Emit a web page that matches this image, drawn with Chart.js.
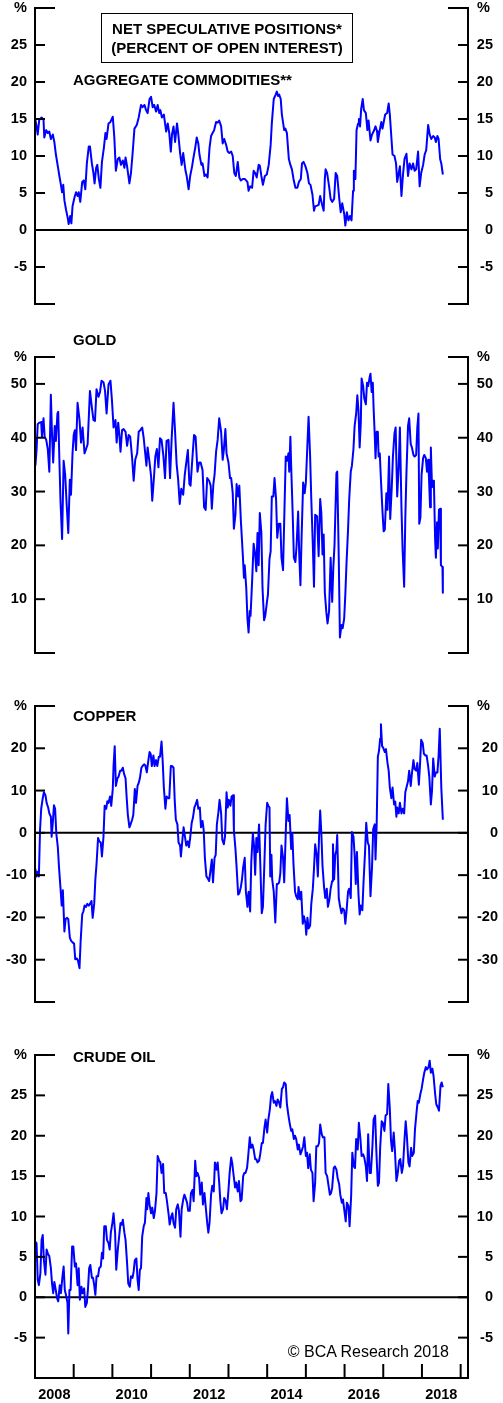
<!DOCTYPE html>
<html>
<head>
<meta charset="utf-8">
<title>Net Speculative Positions</title>
<script src="https://cdn.jsdelivr.net/npm/chart.js@4.4.1/dist/chart.umd.min.js"></script>
<style>
  html, body { margin:0; padding:0; background:#fff; }
  #page { position:relative; width:503px; height:1403px; overflow:hidden; background:#fff; }
  .panel { position:absolute; left:0; width:503px; }
  .panel canvas { display:block; }
  .txt { position:absolute; white-space:nowrap; color:#000;
         font-family:"Liberation Sans", Arial, Helvetica, sans-serif;
         font-weight:bold; font-size:15px; line-height:15px; }
  .center { left:101px; width:252px; text-align:center; }
  .copy { font-weight:normal; font-size:16px; line-height:16px; }
  #box { position:absolute; left:101px; top:13px; width:252px; height:50px;
         box-sizing:border-box; border:1.4px solid #000; }
</style>
</head>
<body>
<div id="page">
  <div class="panel" style="top:-12px;height:362px"><canvas id="cAgg" width="503" height="362"></canvas></div>
  <div class="panel" style="top:337px;height:362px"><canvas id="cGold" width="503" height="362"></canvas></div>
  <div class="panel" style="top:686px;height:362px"><canvas id="cCopper" width="503" height="362"></canvas></div>
  <div class="panel" style="top:1035px;height:373px"><canvas id="cOil" width="503" height="373"></canvas></div>

  <div id="box"></div>
  <div class="txt center" style="top:20.6px">NET SPECULATIVE POSITIONS*</div>
  <div class="txt center" style="top:40px">(PERCENT OF OPEN INTEREST)</div>
  <div class="txt" style="left:73px;top:72.3px">AGGREGATE COMMODITIES**</div>
  <div class="txt" style="left:73px;top:332.3px">GOLD</div>
  <div class="txt" style="left:73px;top:708.3px">COPPER</div>
  <div class="txt" style="left:73px;top:1049.3px">CRUDE OIL</div>
  <div class="txt copy" style="right:54px;top:1344px">© BCA Research 2018</div>
</div>

<script>
// ---- Weekly net speculative positions, % of open interest (decimal-year dates) ----
const aggDates = [
2008.01,2008.04,2008.07,2008.11,2008.17,2008.22,2008.24,2008.29,2008.33,2008.37,
2008.41,2008.46,2008.50,2008.54,2008.59,2008.63,2008.67,2008.70,2008.73,2008.76,
2008.80,2008.85,2008.87,2008.91,2008.94,2008.97,2009.02,2009.06,2009.10,2009.13,
2009.17,2009.22,2009.26,2009.30,2009.34,2009.39,2009.42,2009.47,2009.51,2009.54,
2009.58,2009.61,2009.65,2009.69,2009.73,2009.78,2009.82,2009.85,2009.90,2009.95,
2010.01,2010.05,2010.09,2010.14,2010.18,2010.22,2010.27,2010.31,2010.34,2010.38,
2010.44,2010.48,2010.52,2010.57,2010.63,2010.68,2010.74,2010.78,2010.83,2010.87,
2010.91,2010.96,2011.00,2011.04,2011.08,2011.13,2011.17,2011.21,2011.24,2011.28,
2011.33,2011.39,2011.43,2011.47,2011.51,2011.54,2011.58,2011.62,2011.67,2011.70,
2011.75,2011.79,2011.83,2011.89,2011.92,2011.97,2012.01,2012.06,2012.09,2012.14,
2012.18,2012.22,2012.25,2012.30,2012.33,2012.38,2012.42,2012.46,2012.51,2012.55,
2012.59,2012.63,2012.68,2012.72,2012.76,2012.81,2012.85,2012.89,2012.94,2012.98,
2013.02,2013.07,2013.11,2013.15,2013.19,2013.24,2013.28,2013.32,2013.37,
2013.42,2013.49,2013.52,2013.56,2013.61,2013.65,2013.69,2013.73,2013.78,2013.81,
2013.85,2013.89,2013.94,2013.99,2014.04,2014.09,2014.12,2014.17,2014.22,2014.25,
2014.28,2014.31,2014.35,2014.38,2014.44,2014.47,2014.51,2014.56,2014.60,2014.64,
2014.68,2014.73,2014.78,2014.82,2014.87,2014.90,2014.94,2014.99,2015.04,2015.08,
2015.12,2015.17,2015.21,2015.24,2015.29,2015.33,2015.37,2015.42,2015.46,2015.49,
2015.51,2015.55,2015.60,2015.64,2015.68,2015.73,2015.77,2015.81,2015.86,2015.90,
2015.94,2015.99,2016.02,2016.06,2016.10,2016.14,2016.18,2016.22,2016.24,2016.28,
2016.31,2016.35,2016.37,2016.40,2016.43,2016.47,2016.50,2016.55,2016.59,2016.62,
2016.67,2016.71,2016.75,2016.80,2016.84,2016.86,2016.91,2016.95,2016.98,2017.02,
2017.05,2017.10,2017.14,2017.17,2017.21,2017.24,2017.29,2017.33,2017.36,2017.40,
2017.43,2017.47,2017.51,2017.55,2017.60,2017.64,2017.68,2017.73,2017.77,2017.81,
2017.85,2017.90,2017.94,2017.98,2018.03,2018.07,2018.11,2018.16,2018.20,2018.24,
2018.29,2018.33,2018.36,2018.40,2018.43,2018.47,2018.50,2018.54
];
const aggValues = [
14.9,14.0,12.9,14.9,15.2,14.9,12.5,13.5,13.1,13.3,
12.3,12.9,11.9,10.2,8.6,7.3,6.1,5.1,6.1,4.0,
2.8,1.5,0.8,1.9,0.9,3.2,4.4,5.1,4.6,5.1,
3.8,6.5,6.7,5.5,9.0,11.3,11.3,9.0,7.7,6.3,
8.4,8.8,6.9,5.7,9.2,11.1,13.1,12.3,14.4,14.6,
15.3,12.5,8.0,9.6,9.8,8.8,9.4,8.4,9.8,8.6,
6.3,7.7,10.2,13.7,14.2,15.2,16.9,16.6,16.9,16.2,
15.8,17.7,18.0,16.6,16.9,16.0,16.9,15.8,16.2,15.2,
15.6,13.3,14.4,13.1,10.6,12.9,14.0,11.9,14.4,13.1,
10.4,8.8,10.4,8.0,7.3,5.5,7.3,8.6,9.6,11.1,
12.5,11.7,10.2,8.8,9.0,7.3,7.5,7.1,11.1,12.7,
13.1,13.5,14.6,14.5,14.8,14.0,11.7,12.3,11.5,10.6,
10.4,10.6,10.0,7.7,7.3,9.2,7.1,6.7,6.9,
6.9,6.5,5.3,5.9,5.7,8.0,7.7,7.1,8.8,8.7,
7.3,6.1,7.3,7.5,8.8,11.5,14.4,17.7,18.3,18.7,
18.1,18.3,17.7,15.6,13.5,13.7,13.1,9.6,8.8,8.2,
6.9,5.7,5.7,6.5,6.9,9.0,9.2,8.6,7.7,6.3,
6.1,4.8,2.6,3.2,3.3,3.4,4.6,3.4,2.6,6.9,
8.2,7.7,5.9,4.2,3.8,4.2,7.7,7.3,4.4,2.4,
3.6,2.2,0.6,2.4,1.3,1.9,1.3,5.3,8.0,6.9,
13.5,14.4,15.0,14.0,16.4,17.7,16.2,15.8,13.5,14.8,
12.1,12.9,13.3,14.0,13.3,11.9,13.5,14.6,13.7,14.8,
15.6,15.8,17.1,15.6,12.5,10.2,10.0,9.0,6.5,7.7,
8.6,4.6,7.5,9.6,10.3,7.3,9.0,8.2,9.0,8.0,
8.2,10.6,5.9,7.7,8.8,10.2,10.8,14.2,12.9,12.3,
12.7,12.5,11.9,12.7,12.3,9.6,9.0,7.5
];

const goldDates = [
2008.01,2008.04,2008.07,2008.11,2008.16,2008.18,2008.22,2008.25,2008.29,2008.33,
2008.37,2008.41,2008.44,2008.47,2008.51,2008.54,2008.58,2008.60,2008.63,2008.66,
2008.70,2008.74,2008.78,2008.82,2008.86,2008.90,2008.93,2008.97,2009.00,2009.03,
2009.06,2009.10,2009.15,2009.19,2009.23,2009.28,2009.32,2009.36,2009.42,2009.47,
2009.51,2009.55,2009.59,2009.64,2009.68,2009.72,2009.77,2009.81,2009.85,2009.90,
2009.95,2009.99,2010.03,2010.08,2010.11,2010.15,2010.18,2010.21,2010.25,2010.29,
2010.34,2010.38,2010.42,2010.46,2010.51,2010.55,2010.59,2010.64,2010.68,2010.72,
2010.77,2010.81,2010.84,2010.88,2010.91,2010.96,2011.00,2011.03,2011.07,2011.11,
2011.15,2011.19,2011.23,2011.27,2011.32,2011.36,2011.40,2011.45,2011.49,2011.53,
2011.58,2011.62,2011.66,2011.70,2011.74,2011.78,2011.83,2011.87,2011.91,2011.95,
2011.99,2012.02,2012.07,2012.11,2012.15,2012.20,2012.24,2012.28,2012.33,2012.37,
2012.41,2012.45,2012.50,2012.54,2012.57,2012.61,2012.64,2012.68,2012.72,2012.76,
2012.81,2012.85,2012.88,2012.92,2012.95,2013.00,2013.04,2013.07,2013.11,2013.14,
2013.18,2013.21,2013.25,2013.28,2013.32,2013.37,2013.40,
2013.42,2013.46,2013.49,2013.52,2013.55,2013.57,2013.61,2013.65,2013.69,2013.72,
2013.75,2013.78,2013.81,2013.85,2013.88,2013.92,2013.95,2013.99,2014.02,2014.06,
2014.09,2014.12,2014.16,2014.19,2014.23,2014.26,2014.30,2014.34,2014.37,2014.41,
2014.44,2014.48,2014.51,2014.55,2014.57,2014.60,2014.62,2014.66,2014.69,2014.73,
2014.76,2014.80,2014.83,2014.86,2014.89,2014.93,2014.97,2015.00,2015.04,2015.07,
2015.11,2015.14,2015.18,2015.21,2015.24,2015.29,2015.33,2015.37,2015.40,2015.43,
2015.46,2015.49,2015.53,2015.56,2015.60,2015.64,2015.68,2015.71,2015.74,2015.79,
2015.81,2015.85,2015.88,2015.92,2015.95,2015.99,2016.02,2016.05,2016.09,2016.12,
2016.16,2016.19,2016.23,2016.26,2016.30,2016.33,2016.36,2016.39,2016.42,2016.44,
2016.48,2016.51,2016.55,2016.58,2016.61,2016.65,2016.67,2016.70,2016.73,2016.75,
2016.78,2016.80,2016.83,2016.86,2016.88,2016.91,2016.94,2016.98,2017.01,2017.04,
2017.08,2017.11,2017.15,2017.18,2017.22,2017.25,2017.29,2017.32,2017.36,2017.40,
2017.43,2017.47,2017.50,2017.54,2017.57,2017.60,2017.64,2017.67,2017.71,2017.74,
2017.78,2017.81,2017.85,2017.88,2017.91,2017.93,2017.96,2017.99,2018.03,2018.06,
2018.10,2018.13,2018.16,2018.18,2018.21,2018.23,2018.26,2018.29,2018.31,2018.34,
2018.36,2018.39,2018.41,2018.44,2018.47,2018.49,2018.53,2018.54
];
const goldValues = [
34.8,37.7,42.5,42.8,42.9,40.2,43.6,40.2,39.6,37.9,
33.7,48.0,40.5,35.4,42.2,39.4,44.5,44.8,35.9,28.0,
21.2,35.7,33.1,27.4,22.3,32.2,29.4,37.1,40.5,41.4,
37.7,46.5,43.3,39.1,41.9,37.1,37.9,38.8,48.7,45.6,
43.3,43.1,49.0,47.6,48.5,50.6,50.3,48.7,44.5,49.9,
50.6,46.8,41.9,43.3,39.1,42.8,40.5,37.4,41.4,41.6,
41.1,38.5,40.5,40.2,36.2,32.0,35.9,37.1,41.1,41.4,
41.9,39.9,37.7,34.8,38.2,35.4,32.8,28.3,32.2,36.5,
37.9,34.5,39.9,39.6,36.5,32.5,39.4,39.6,32.5,39.6,
46.5,41.1,35.1,32.2,27.7,30.5,29.4,33.1,35.4,37.7,
31.4,31.1,36.5,40.5,40.2,33.7,35.4,35.4,34.0,27.1,
26.6,32.5,32.0,31.1,26.8,31.4,33.1,37.4,39.6,43.6,
41.1,35.9,37.7,41.6,37.1,35.4,32.5,32.5,29.7,23.1,
25.7,31.4,29.1,31.1,24.6,18.3,14.0,
16.3,12.0,6.4,3.8,7.8,6.9,13.2,20.3,18.3,15.2,
22.3,16.3,26.0,22.3,12.0,6.1,6.9,9.2,10.9,17.5,
18.9,29.1,29.1,32.5,28.6,21.4,24.0,24.0,17.7,15.4,
24.6,36.5,35.7,37.1,33.7,40.2,34.8,25.7,17.7,16.9,
20.0,26.3,18.0,12.6,21.7,31.7,29.7,31.7,38.8,43.9,
36.5,28.6,20.0,12.3,25.7,25.4,18.0,28.6,26.0,18.3,
22.0,11.2,7.5,5.5,7.8,17.7,9.5,16.0,20.0,33.4,
33.7,17.7,2.9,5.2,4.6,6.4,10.9,16.6,22.9,28.6,
33.7,34.8,37.9,42.2,44.5,47.9,45.0,38.2,42.8,51.0,
49.6,47.3,46.2,50.2,49.6,51.3,51.9,48.5,50.2,45.6,
40.5,36.2,41.1,41.1,36.5,37.1,32.2,26.3,22.6,22.9,
29.7,26.6,36.5,24.9,30.8,36.5,40.8,41.9,29.1,34.8,
41.9,27.1,19.2,12.3,25.1,33.7,42.2,43.6,38.8,38.2,
36.8,36.5,36.8,41.9,44.5,24.0,25.1,33.1,36.2,36.8,
36.2,33.7,35.9,32.8,27.1,38.2,30.8,32.0,31.4,21.2,
17.7,24.3,19.4,26.6,26.8,16.3,16.0,11.2
];

const copperDates = [
2008.01,2008.04,2008.07,2008.10,2008.13,2008.16,2008.20,2008.23,2008.27,2008.30,
2008.34,2008.37,2008.41,2008.43,2008.46,2008.49,2008.52,2008.55,2008.59,2008.62,
2008.66,2008.69,2008.72,2008.76,2008.79,2008.83,2008.86,2008.90,2008.93,2008.97,
2009.01,2009.04,2009.08,2009.11,2009.15,2009.18,2009.22,2009.25,2009.28,2009.32,
2009.35,2009.39,2009.42,2009.46,2009.49,2009.53,2009.56,2009.59,2009.63,2009.66,
2009.70,2009.73,2009.77,2009.80,2009.84,2009.87,2009.90,2009.94,2009.97,2010.01,
2010.03,2010.06,2010.09,2010.13,2010.16,2010.20,2010.23,2010.27,2010.30,2010.34,
2010.37,2010.40,2010.44,2010.47,2010.51,2010.54,2010.58,2010.61,2010.65,2010.68,
2010.71,2010.75,2010.78,2010.82,2010.85,2010.89,2010.92,2010.96,2010.99,2011.02,
2011.06,2011.09,2011.13,2011.16,2011.20,2011.23,2011.27,2011.30,2011.33,2011.37,
2011.40,2011.44,2011.47,2011.51,2011.54,2011.58,2011.61,2011.64,2011.68,2011.71,
2011.75,2011.77,2011.81,2011.84,2011.88,2011.91,2011.95,2011.98,2012.01,2012.05,
2012.08,2012.12,2012.15,2012.19,2012.22,2012.26,2012.29,2012.33,2012.36,2012.39,
2012.43,2012.46,2012.50,2012.53,2012.57,2012.60,2012.64,2012.67,2012.70,2012.74,
2012.77,2012.81,2012.84,2012.88,2012.91,2012.95,2012.98,2013.01,2013.05,2013.08,
2013.12,2013.14,2013.18,2013.21,2013.25,2013.28,2013.32,2013.35,2013.38,
2013.42,2013.45,2013.49,2013.52,2013.56,2013.59,2013.63,2013.66,2013.69,2013.72,
2013.75,2013.79,2013.82,2013.86,2013.89,2013.93,2013.96,2014.00,2014.03,2014.06,
2014.08,2014.11,2014.13,2014.17,2014.21,2014.25,2014.28,2014.31,2014.34,2014.37,
2014.41,2014.44,2014.48,2014.51,2014.55,2014.58,2014.62,2014.65,2014.68,2014.72,
2014.75,2014.79,2014.81,2014.85,2014.88,2014.92,2014.95,2014.99,2015.01,2015.04,
2015.07,2015.11,2015.14,2015.18,2015.21,2015.24,2015.28,2015.31,2015.34,2015.37,
2015.40,2015.43,2015.47,2015.50,2015.54,2015.57,2015.61,2015.64,2015.68,2015.70,
2015.73,2015.76,2015.79,2015.81,2015.85,2015.88,2015.92,2015.95,2015.99,2016.02,
2016.05,2016.09,2016.12,2016.16,2016.19,2016.23,2016.26,2016.29,2016.32,2016.36,
2016.39,2016.42,2016.46,2016.49,2016.53,2016.56,2016.60,2016.63,2016.67,2016.71,
2016.74,2016.78,2016.80,2016.83,2016.86,2016.89,2016.92,2016.94,2016.97,2017.00,
2017.04,2017.07,2017.11,2017.14,2017.17,2017.21,2017.24,2017.28,2017.31,2017.34,
2017.36,2017.40,2017.43,2017.47,2017.50,2017.54,2017.57,2017.60,2017.64,2017.67,
2017.71,2017.74,2017.78,2017.81,2017.85,2017.88,2017.92,2017.95,2017.98,2018.02,
2018.05,2018.09,2018.12,2018.16,2018.19,2018.23,2018.26,2018.29,2018.33,2018.36,
2018.40,2018.43,2018.46,2018.50,2018.54
];
const copperValues = [
-8.5,-10.3,-9.2,-10.3,0.6,5.7,8.2,9.6,8.9,7.1,
6.0,4.6,3.8,-0.9,2.4,6.5,5.7,-0.1,-3.4,-8.1,
-13.2,-17.2,-13.6,-23.3,-20.4,-20.1,-20.4,-24.8,-25.5,-25.9,
-26.2,-29.9,-29.7,-30.2,-32.0,-25.5,-19.3,-18.6,-17.2,-17.5,
-16.8,-17.2,-16.8,-16.1,-20.1,-16.8,-11.0,-7.4,-1.2,-2.0,
-2.3,-5.6,-0.9,6.4,5.7,7.5,7.1,8.6,6.4,10.4,
15.8,20.5,11.1,12.9,13.3,14.7,14.7,15.4,14.0,12.9,
8.2,4.2,1.3,2.0,3.1,4.2,10.4,7.1,11.1,11.8,
12.9,15.4,15.8,16.2,16.0,14.3,16.5,19.1,18.7,15.8,
18.3,15.8,17.2,15.8,18.0,18.0,21.6,16.9,10.7,5.7,
8.6,8.2,8.2,15.8,15.8,15.4,7.8,3.1,2.0,-2.3,
-3.0,-5.6,-1.6,1.3,-1.2,-3.0,-2.0,-3.4,-1.2,2.4,
3.5,6.0,6.7,7.8,5.7,6.0,1.3,2.8,0.6,-5.9,
-10.3,-10.7,-11.4,-9.2,-6.3,-11.7,-5.9,-5.2,2.0,4.9,
7.8,4.6,-1.6,-2.7,-0.9,9.6,6.0,7.8,6.4,8.6,
8.9,0.6,-3.8,-8.1,-14.6,-14.3,-12.8,-11.0,-8.1,
-5.9,-13.9,-17.5,-13.9,-18.6,-6.7,-0.1,-3.0,-9.9,-1.2,
-4.5,2.0,-6.7,-19.0,-17.5,-6.7,2.0,7.1,6.4,6.0,
-10.3,-5.2,-11.0,-13.9,-21.2,-12.1,-12.1,-11.7,-9.6,-3.0,
-5.9,-11.7,-0.1,8.2,2.8,4.2,-3.8,-0.1,-7.4,-13.9,
-15.0,-15.7,-12.8,-15.7,-13.9,-21.5,-19.7,-21.5,-24.1,-20.1,
-22.6,-21.9,-16.8,-13.2,-8.5,-2.7,-5.2,-10.3,-1.2,5.3,
-0.1,-7.8,-12.8,-15.4,-13.2,-17.5,-15.7,-13.2,-11.4,-2.7,
-11.0,-5.2,-4.1,-0.5,-15.4,-17.2,-19.0,-17.9,-18.3,-21.5,
-18.6,-13.9,-13.2,-15.4,0.2,-0.9,-5.2,-12.1,-4.5,-14.6,
-19.3,-17.2,-18.3,-11.7,-4.5,2.4,-2.3,-3.0,-15.0,-8.1,
0.9,2.0,-6.3,2.0,18.0,19.4,22.3,25.7,20.5,20.1,
19.1,19.8,16.5,14.7,10.7,8.2,10.7,6.7,7.4,3.8,
6.0,4.6,7.1,4.6,5.7,4.6,9.6,10.7,12.2,14.7,
11.1,14.0,17.2,15.1,14.7,16.5,11.4,16.2,22.0,21.2,
18.7,18.3,18.3,15.8,13.3,6.7,10.0,17.6,13.3,14.3,
14.3,18.3,24.6,10.7,3.1
];

const oilDates = [
2008.00,2008.04,2008.07,2008.10,2008.14,2008.17,2008.20,2008.23,2008.27,2008.30,
2008.34,2008.37,2008.41,2008.44,2008.47,2008.50,2008.53,2008.57,2008.60,2008.64,
2008.67,2008.71,2008.74,2008.77,2008.80,2008.84,2008.86,2008.89,2008.92,2008.96,
2008.99,2009.03,2009.06,2009.10,2009.13,2009.16,2009.20,2009.23,2009.27,2009.30,
2009.34,2009.37,2009.40,2009.43,2009.47,2009.50,2009.53,2009.56,2009.59,2009.63,
2009.66,2009.70,2009.73,2009.76,2009.79,2009.83,2009.86,2009.90,2009.93,2009.96,
2010.00,2010.03,2010.07,2010.10,2010.14,2010.17,2010.21,2010.24,2010.27,2010.31,
2010.34,2010.38,2010.41,2010.45,2010.48,2010.52,2010.55,2010.58,2010.62,2010.65,
2010.68,2010.71,2010.74,2010.77,2010.81,2010.84,2010.88,2010.90,2010.93,2010.96,
2011.00,2011.03,2011.07,2011.10,2011.14,2011.17,2011.21,2011.24,2011.27,2011.31,
2011.34,2011.38,2011.41,2011.45,2011.48,2011.52,2011.55,2011.58,2011.62,2011.65,
2011.69,2011.72,2011.76,2011.79,2011.83,2011.86,2011.89,2011.93,2011.96,2012.00,
2012.03,2012.07,2012.10,2012.14,2012.17,2012.20,2012.24,2012.27,2012.31,2012.34,
2012.38,2012.41,2012.45,2012.48,2012.51,2012.55,2012.58,2012.62,2012.65,2012.69,
2012.72,2012.76,2012.79,2012.82,2012.86,2012.89,2012.93,2012.96,2013.00,2013.03,
2013.07,2013.10,2013.13,2013.17,2013.20,2013.24,2013.27,2013.31,2013.34,2013.38,
2013.41,2013.44,2013.48,2013.51,2013.55,2013.58,2013.62,2013.65,2013.69,2013.72,
2013.75,2013.79,2013.82,2013.86,2013.89,2013.93,2013.96,2014.00,2014.03,2014.07,
2014.10,2014.13,2014.17,2014.20,2014.24,2014.27,2014.31,2014.34,2014.38,2014.41,
2014.44,2014.48,2014.51,2014.55,2014.58,2014.62,2014.65,2014.69,2014.72,2014.75,
2014.79,2014.82,2014.86,2014.89,2014.93,2014.96,2015.00,2015.03,2015.06,2015.10,
2015.13,2015.17,2015.20,2015.24,2015.27,2015.31,2015.34,2015.37,2015.41,2015.44,
2015.48,2015.51,2015.55,2015.58,2015.62,2015.65,2015.68,2015.72,2015.75,2015.79,
2015.82,2015.86,2015.89,2015.93,2015.96,2015.99,2016.03,2016.06,2016.10,2016.13,
2016.17,2016.20,2016.24,2016.27,2016.30,2016.34,2016.37,2016.41,2016.44,2016.48,
2016.51,2016.55,2016.58,2016.61,2016.65,2016.68,2016.72,2016.75,2016.79,2016.82,
2016.86,2016.89,2016.92,2016.96,2016.99,2017.03,2017.06,2017.10,2017.13,2017.17,
2017.20,2017.23,2017.27,2017.30,2017.34,2017.37,2017.41,2017.44,2017.48,2017.51,
2017.55,2017.58,2017.61,2017.65,2017.68,2017.72,2017.75,2017.79,2017.82,2017.86,
2017.89,2017.92,2017.96,2017.99,2018.03,2018.06,2018.10,2018.13,2018.17,2018.20,
2018.23,2018.27,2018.30,2018.34,2018.37,2018.41,2018.44,2018.48,2018.51,2018.54
];
const oilValues = [
6.9,6.7,2.2,1.5,3.0,7.1,7.7,4.6,2.8,5.9,
5.3,5.1,3.6,1.7,0.5,1.9,1.1,-0.1,-0.5,1.5,
0.5,2.6,3.8,0.9,0.3,-0.7,-4.5,0.9,0.9,6.3,
6.3,3.8,4.2,1.5,3.6,-0.3,1.3,0.5,1.1,-1.2,
-0.7,1.1,3.6,4.0,2.4,2.4,1.5,0.3,2.6,2.6,
3.6,3.8,5.5,4.8,8.8,8.8,7.1,6.7,5.9,8.0,
9.2,10.4,8.0,3.4,5.9,7.3,9.2,9.0,9.6,8.0,
7.1,4.2,1.7,1.3,2.6,2.4,3.2,4.6,4.8,2.2,
0.9,3.4,3.6,7.5,8.8,9.2,12.3,10.9,12.9,11.5,
10.4,11.1,9.8,10.7,12.9,17.5,16.9,16.7,15.4,16.5,
12.9,12.9,11.9,10.4,9.0,10.0,10.4,9.2,8.6,10.9,
11.5,10.7,7.5,10.9,12.1,12.7,12.3,11.7,10.7,10.7,
12.9,13.3,11.9,16.9,15.0,15.4,14.8,12.7,14.2,11.5,
12.9,11.3,9.2,8.0,9.2,12.7,13.8,13.1,16.7,15.8,
16.7,14.2,11.9,10.4,10.9,12.3,11.9,10.9,13.3,15.4,
17.3,16.5,15.2,13.6,14.2,13.1,14.4,11.9,12.1,15.0,
15.4,15.4,16.0,17.5,19.8,18.5,18.9,18.3,17.1,17.1,
16.7,16.9,17.7,19.1,19.1,21.0,22.0,20.4,22.0,23.3,
24.9,25.4,24.1,24.3,23.7,24.5,24.1,23.5,25.8,26.0,
26.6,26.4,23.9,22.5,21.6,20.6,20.8,19.6,20.0,19.6,
18.3,18.9,17.7,18.1,18.7,19.8,17.5,17.9,16.0,17.7,
15.8,15.4,11.9,14.2,18.7,18.7,19.1,21.4,20.2,19.8,
19.8,15.4,15.0,14.0,12.7,12.9,13.6,16.0,16.2,15.8,
14.8,14.0,12.7,11.7,12.1,10.9,9.4,11.7,11.3,8.8,
12.5,17.9,16.2,16.0,19.6,18.3,21.6,19.6,17.5,17.7,
17.3,16.2,14.4,20.2,15.4,15.4,18.7,22.0,22.5,18.3,
13.8,14.2,18.5,21.8,21.6,20.6,22.5,22.7,26.4,23.3,
19.4,18.1,20.4,18.3,14.4,15.2,16.9,17.1,15.4,16.2,
19.6,21.8,20.0,16.7,16.2,18.5,17.5,17.9,20.8,22.9,
24.3,24.1,25.2,25.8,27.0,27.8,28.5,28.2,28.5,29.3,
27.8,28.3,27.4,25.2,23.9,23.5,23.1,26.2,26.6,26.0
];

// ---- Axis tick values and labelled years ----
const aggTicks    = [-5, 0, 5, 10, 15, 20, 25];
const goldTicks   = [10, 20, 30, 40, 50];
const copperTicks = [-30, -20, -10, 0, 10, 20];
const oilTicks    = [-5, 0, 5, 10, 15, 20, 25];
const yearLabels  = [2008, 2010, 2012, 2014, 2016, 2018];

// ---- Shared styling ----
const FONT = "'Liberation Sans', Arial, Helvetica, sans-serif";
const tickFont = { family: FONT, size: 14.5, weight: 'bold' };
const LINE_BLUE = '#0000ff';
const X_MIN = 2008, X_MAX = 2019.19;
const PAD = 20;          // space above and below each plot area
const AXIS_LEFT_W = 35;  // width of the left tick-label column

// Draws the frame: axis lines, inward ticks, corner brackets, zero line, year ticks.
const framePlugin = {
  id: 'frame',
  beforeDatasetsDraw(chart, args, o) {
    const { ctx, chartArea: a, scales: { y } } = chart;
    if (y.min < 0 && y.max > 0) {
      const zy = y.getPixelForValue(0);
      ctx.save();
      ctx.strokeStyle = '#000'; ctx.lineWidth = 2;
      ctx.beginPath(); ctx.moveTo(a.left, zy); ctx.lineTo(a.right, zy); ctx.stroke();
      ctx.restore();
    }
  },
  afterDatasetsDraw(chart, args, o) {
    const { ctx, chartArea: a, scales: { x, y } } = chart;
    const seg = (x1, y1, x2, y2) => { ctx.beginPath(); ctx.moveTo(x1, y1); ctx.lineTo(x2, y2); ctx.stroke(); };
    ctx.save();
    ctx.strokeStyle = '#000'; ctx.lineWidth = 2; ctx.lineCap = 'square';
    seg(a.left, a.top, a.left, a.bottom);
    seg(a.right, a.top, a.right, a.bottom);
    seg(a.left, a.top, a.left + 19, a.top);
    seg(a.right - 19, a.top, a.right, a.top);
    if (o.timeAxis) {
      seg(a.left, a.bottom, a.right, a.bottom);
      for (let yr = Math.ceil(X_MIN) + 1; yr <= Math.floor(X_MAX); yr++) {
        const px = x.getPixelForValue(yr);
        seg(px, a.bottom, px, a.bottom - 13);
      }
    } else {
      seg(a.left, a.bottom, a.left + 19, a.bottom);
      seg(a.right - 19, a.bottom, a.right, a.bottom);
    }
    ctx.lineCap = 'butt';
    for (const v of o.ticks) {
      const py = y.getPixelForValue(v);
      seg(a.left, py, a.left + 10, py);
      seg(a.right - 10, py, a.right, py);
    }
    ctx.fillStyle = '#000';
    ctx.font = `bold ${tickFont.size}px ${FONT}`;
    ctx.textAlign = 'left'; ctx.textBaseline = 'middle';
    ctx.fillText('%', a.right + 9, y.getPixelForValue(y.max));
    ctx.restore();
  }
};

function makePanel(id, dates, values, yMin, yMax, ticks, opts) {
  const n = Math.min(dates.length, values.length);
  const pts = [];
  for (let i = 0; i < n; i++) pts.push({ x: dates[i], y: values[i] });
  const rightEdge = opts.rightEdge;
  const withTicks = (scale) => { scale.ticks = ticks.concat([yMax]).map(v => ({ value: v })); };
  const yBase = {
    min: yMin, max: yMax,
    grid: { display: false, drawTicks: false },
    border: { display: false },
    afterBuildTicks: withTicks
  };
  return new Chart(document.getElementById(id), {
    type: 'line',
    data: { datasets: [{
      data: pts, borderColor: LINE_BLUE, borderWidth: 2, pointRadius: 0,
      tension: 0, fill: false, borderJoinStyle: 'round', yAxisID: 'y'
    }] },
    options: {
      responsive: false, animation: false, devicePixelRatio: 1,
      parsing: false, normalized: true,
      layout: { padding: { top: PAD, bottom: opts.timeAxis ? 4 : PAD, left: 0, right: 503 - rightEdge } },
      plugins: { legend: { display: false }, tooltip: { enabled: false }, frame: { ticks, timeAxis: !!opts.timeAxis } },
      scales: {
        x: {
          type: 'linear', min: X_MIN, max: X_MAX, display: !!opts.timeAxis,
          grid: { display: false, drawTicks: false }, border: { display: false },
          afterBuildTicks: (s) => { s.ticks = yearLabels.map(yr => ({ value: yr + 0.5 })); },
          afterFit: (s) => { s.height = 26; },
          ticks: { autoSkip: false, maxRotation: 0, padding: 8, color: '#000', font: tickFont,
                   callback: (v) => String(Math.floor(v)) }
        },
        y: Object.assign({}, yBase, {
          position: 'left',
          afterFit: (s) => { s.width = AXIS_LEFT_W; },
          ticks: { padding: 8, color: '#000', font: tickFont,
                   callback: (v) => (v === yMax ? '%' : String(v)) }
        }),
        y2: Object.assign({}, yBase, {
          position: 'right',
          afterFit: (s) => { s.width = rightEdge - 468; },
          ticks: { crossAlign: 'far', padding: 8, color: '#000', font: tickFont,
                   callback: (v) => (v === yMax ? '' : String(v)) }
        })
      }
    },
    plugins: [framePlugin]
  });
}

makePanel('cAgg',    aggDates,    aggValues,    -10, 30, aggTicks,    { rightEdge: 493 });
makePanel('cGold',   goldDates,   goldValues,     0, 55, goldTicks,   { rightEdge: 493 });
makePanel('cCopper', copperDates, copperValues, -40, 30, copperTicks, { rightEdge: 498 });
makePanel('cOil',    oilDates,    oilValues,    -10, 30, oilTicks,    { rightEdge: 493, timeAxis: true });
</script>
</body>
</html>
